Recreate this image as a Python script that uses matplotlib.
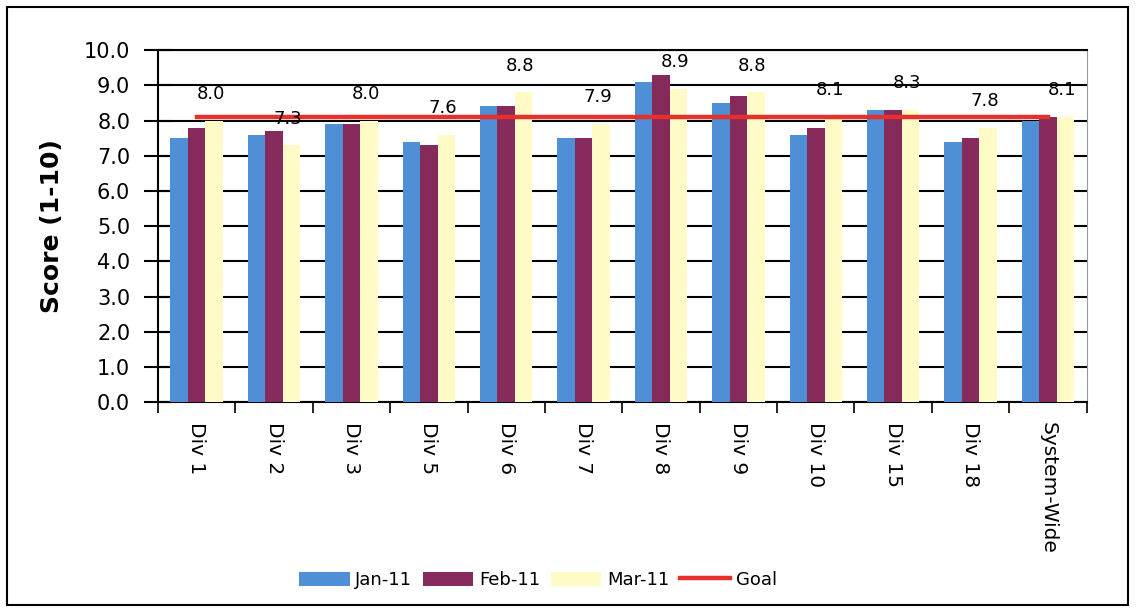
import numpy as np
import matplotlib
matplotlib.use("Agg")
import matplotlib.pyplot as plt
from matplotlib.patches import Rectangle

# datos
divisiones = ["Div 1", "Div 2", "Div 3", "Div 5", "Div 6", "Div 7", "Div 8",
              "Div 9", "Div 10", "Div 15", "Div 18", "System-Wide"]
jan_11 = [7.5, 7.6, 7.9, 7.4, 8.4, 7.5, 9.1, 8.5, 7.6, 8.3, 7.4, 8.0]
feb_11 = [7.8, 7.7, 7.9, 7.3, 8.4, 7.5, 9.3, 8.7, 7.8, 8.3, 7.5, 8.1]
mar_11 = [8.0, 7.3, 8.0, 7.6, 8.8, 7.9, 8.9, 8.8, 8.1, 8.3, 7.8, 8.1]
goal = [8.1] * len(divisiones)

col_jan = "#4F8FD6"
col_feb = "#852A5B"
col_mar = "#FFFBC6"
col_goal = "#E5302B"

fig = plt.figure(figsize=(11.45, 6.12), dpi=100)
ax = fig.add_axes([0.138, 0.343, 0.811, 0.575])

x = np.arange(len(divisiones))
w = 0.226
b1 = ax.bar(x - w, jan_11, w, color=col_jan, label="Jan-11", zorder=3)
b2 = ax.bar(x, feb_11, w, color=col_feb, label="Feb-11", zorder=3)
b3 = ax.bar(x + w, mar_11, w, color=col_mar, label="Mar-11", zorder=3)
l1, = ax.plot(x, goal, color=col_goal, lw=3.2, label="Goal", zorder=4)

# etiquetas de Mar-11
for xi, v in zip(x, mar_11):
    ax.text(xi + w * 0.8, v + 0.5, f"{v:.1f}", ha="center", va="bottom",
            fontsize=13, zorder=5)

ax.set_xlim(-0.5, len(divisiones) - 0.5)
ax.set_ylim(0, 10)
ax.set_yticks(np.arange(0, 10.5, 1.0))
ax.set_yticklabels([f"{v:.1f}" for v in np.arange(0, 10.5, 1.0)], fontsize=15)
ax.tick_params(axis="y", direction="inout", length=20, width=1.5, pad=10)
ax.set_ylabel("Score (1-10)", fontsize=18, fontweight="bold", labelpad=14)

ax.set_xticks(x)
ax.set_xticklabels(divisiones, rotation=-90, fontsize=14.5, va="top")
ax.tick_params(axis="x", length=0, pad=14)
ax.set_xticks(np.arange(-0.5, len(divisiones), 1.0), minor=True)
ax.tick_params(axis="x", which="minor", direction="out", length=8, width=1.2)

ax.grid(axis="y", color="black", lw=1.5, zorder=0)
ax.set_axisbelow(True)
for s in ["left", "bottom", "top"]:
    ax.spines[s].set_linewidth(1.5)
ax.spines["right"].set_color("#999999")

fig.legend([b1, b2, b3, l1], ["Jan-11", "Feb-11", "Mar-11", "Goal"],
           loc="center", bbox_to_anchor=(538 / 1145, 1 - 580 / 612), ncol=4,
           frameon=False, fontsize=13, handlelength=2.8, handleheight=0.8,
           columnspacing=0.6, handletextpad=0.3)

fig.patches.append(Rectangle((7 / 1145, 7 / 612), 1121 / 1145, 598 / 612,
                             transform=fig.transFigure, fill=False,
                             edgecolor="black", lw=1.5))

fig.savefig("out.png", dpi=100)
